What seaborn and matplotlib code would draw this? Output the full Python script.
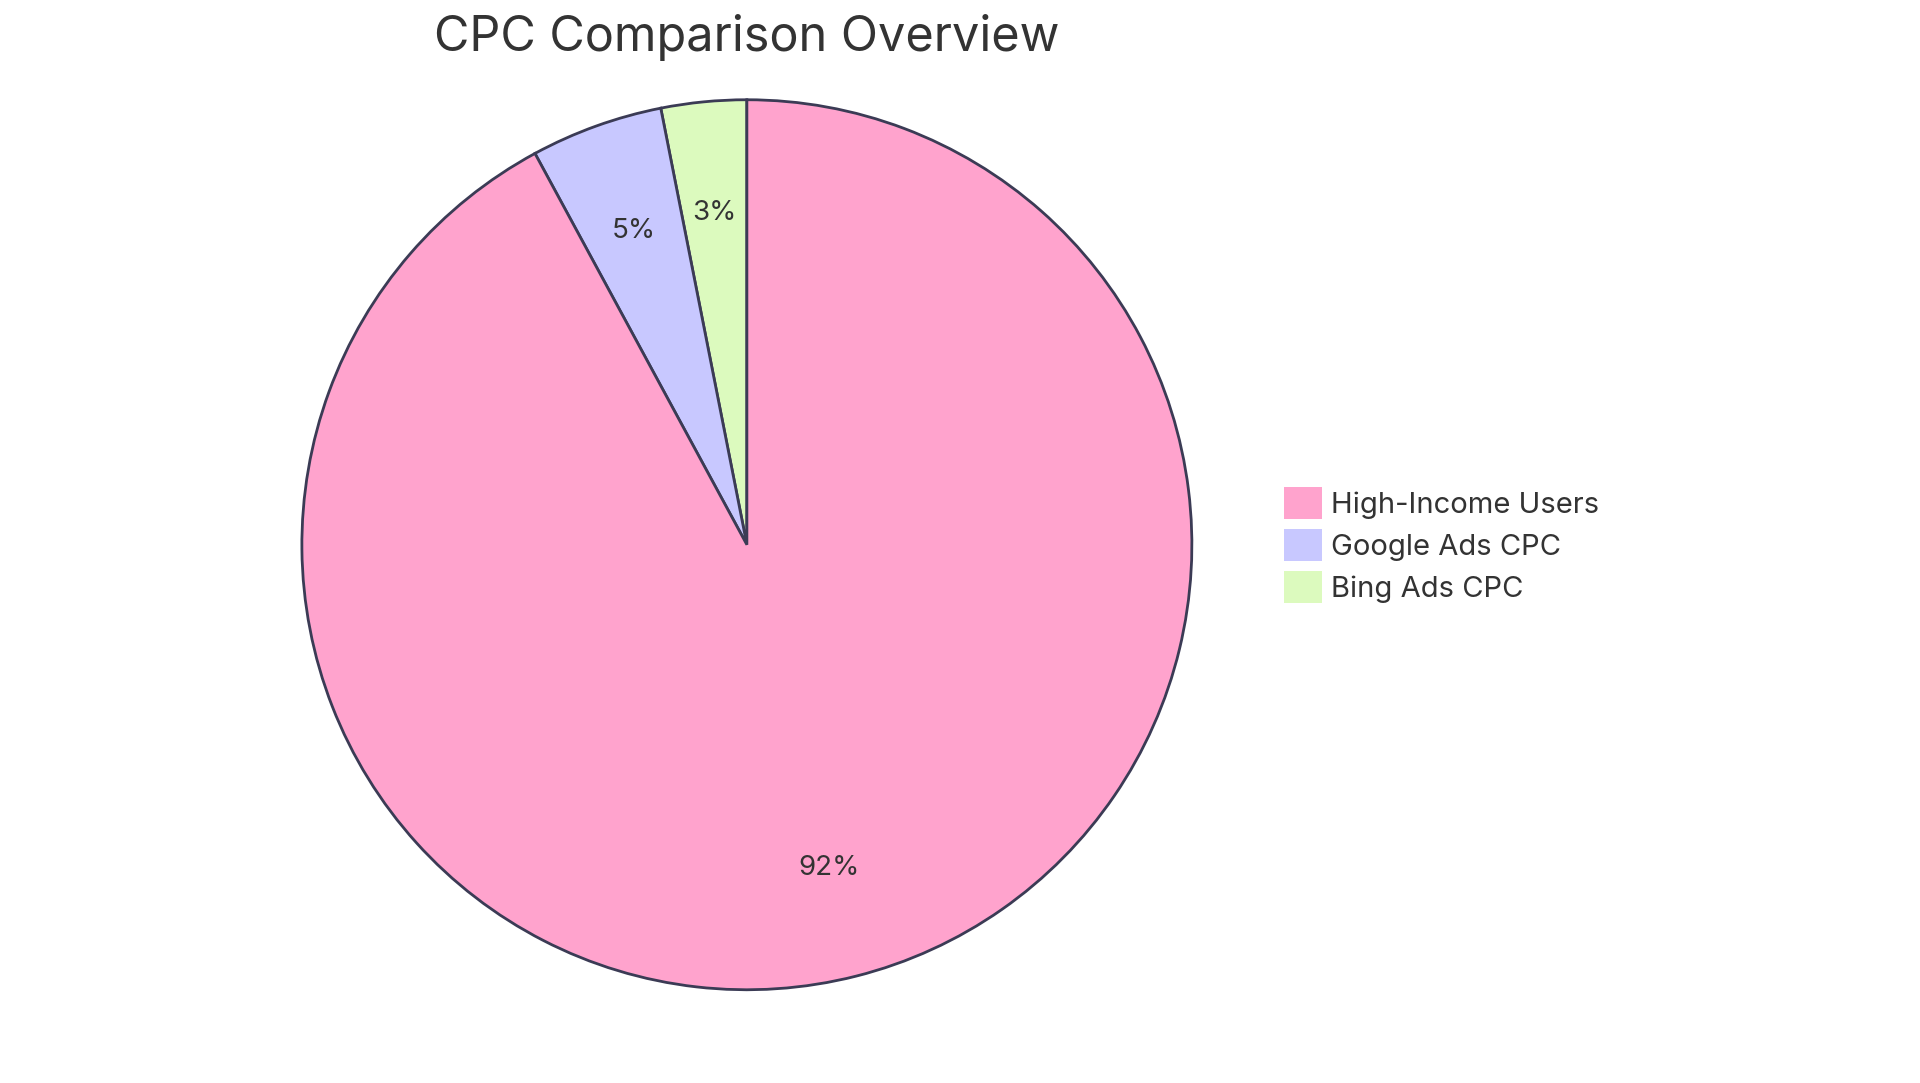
import matplotlib
matplotlib.use("Agg")
import matplotlib.pyplot as plt
import seaborn as sns

categories = ["High-Income Users", "Google Ads CPC", "Bing Ads CPC"]
values = [92.1, 4.8, 3.1]
colors = ["#FFA3CD", "#C8C8FF", "#DCFABE"]

sns.set_theme(style="white")
plt.rcParams['font.family'] = ['Inter', 'DejaVu Sans']

fig = plt.figure(figsize=(19.2, 10.83), dpi=100)
h = 0.415 * 2 * 10.83 / 19.2
ax = fig.add_axes([0.389 - h / 2 * 1.0, 0.497 - 0.415, h, 0.83])
ax.set_aspect('equal')
# draw order counterclockwise from top: Bing, Google, High-Income
order = [2, 1, 0]
wedges, texts, autotexts = ax.pie(
    [values[i] for i in order], colors=[colors[i] for i in order],
    startangle=90, counterclock=True,
    autopct=lambda p: f"{p:.0f}%", pctdistance=0.75,
    wedgeprops=dict(edgecolor="#3b3b55", linewidth=2),
    textprops=dict(fontsize=20, color="#333333"))
ax.set_xlim(-1.01, 1.01)
ax.set_ylim(-1.01, 1.01)
fig.text(0.389, 0.965, "CPC Comparison Overview", ha="center", va="center",
         fontsize=35, color="#333333")
handles = [wedges[order.index(i)] for i in range(3)]
leg = fig.legend(handles, categories, loc="center left", bbox_to_anchor=(0.655, 0.497),
                 frameon=False, fontsize=21, handlelength=1.3, handleheight=1.3,
                 labelspacing=0.35, handletextpad=0.3)
for t in leg.get_texts():
    t.set_color("#333333")
for p in leg.get_patches():
    p.set_edgecolor("none")
fig.savefig("out.png", dpi=100)
